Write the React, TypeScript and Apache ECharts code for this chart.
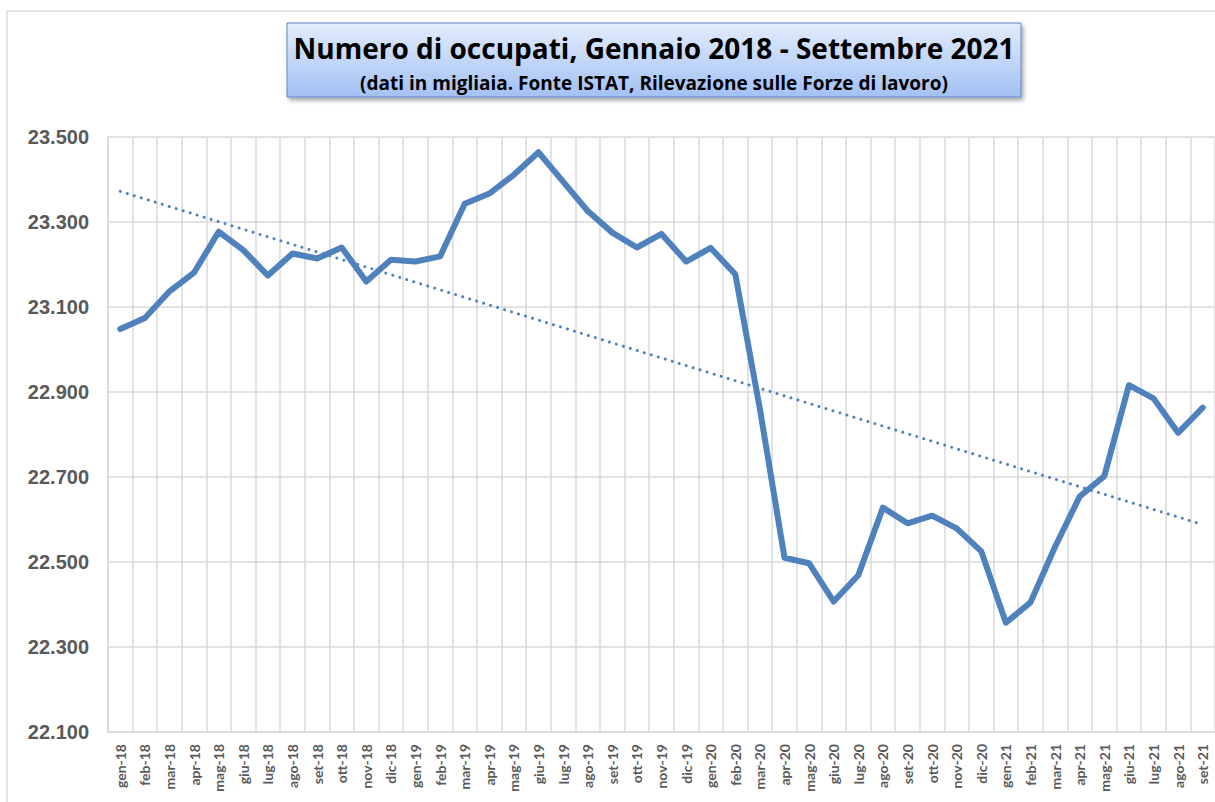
import React, { useEffect, useRef } from "react";
import * as echarts from "echarts";

const months = ["gen", "feb", "mar", "apr", "mag", "giu", "lug", "ago", "set", "ott", "nov", "dic"];
const years = ["18", "19", "20", "21"];
const categories: string[] = [];
years.forEach((y) => months.forEach((m) => categories.push(`${m}-${y}`)));
categories.splice(45);

const occupati = [
  23048, 23074, 23137, 23181, 23277, 23234, 23174, 23226, 23214, 23240, 23160, 23211,
  23207, 23219, 23343, 23367, 23411, 23464, 23395, 23326, 23275, 23240, 23272, 23207,
  23239, 23177, 22860, 22510, 22497, 22407, 22469, 22628, 22591, 22609, 22579, 22525,
  22357, 22405, 22536, 22654, 22702, 22916, 22885, 22804, 22863,
];

// Linear trend line endpoints (first and last month)
const trendCategories = ["gen-18", "set-21"];
const trendValues = [23372, 22588];

const yTicks = [22100, 22300, 22500, 22700, 22900, 23100, 23300, 23500];

const titleText = "Numero di occupati, Gennaio 2018 - Settembre 2021";
const subtitleText = "(dati in migliaia. Fonte ISTAT, Rilevazione sulle Forze di lavoro)";

const fmt = (v: number) => {
  const s = String(Math.round(v));
  return s.replace(/\B(?=(\d{3})+(?!\d))/g, ".");
};

export default function App() {
  const ref = useRef<HTMLDivElement>(null);
  useEffect(() => {
    document.body.style.overflow = "hidden";
    const chart = echarts.init(ref.current!, undefined, { renderer: "svg" });
    const blue = "#4f81bd";
    chart.setOption({
      animation: false,
      backgroundColor: "#ffffff",
      grid: { left: 108, top: 137, right: -2, bottom: 70, containLabel: false },
      xAxis: {
        type: "category",
        data: categories,
        boundaryGap: true,
        axisLine: { show: true, lineStyle: { color: "#d9d9d9", width: 1.5 } },
        axisTick: { show: false },
        splitLine: { show: true, interval: 0, lineStyle: { color: "#d9d9d9", width: 1.5 } },
        axisLabel: {
          interval: 0,
          rotate: 90,
          margin: 12,
          color: "#595959",
          fontFamily: "Lato",
          fontWeight: "bold",
          fontSize: 14,
        },
      },
      yAxis: {
        type: "value",
        min: 22100,
        max: 23500,
        axisLine: { show: true, lineStyle: { color: "#d9d9d9", width: 1.5 } },
        axisTick: { show: false, customValues: yTicks },
        splitLine: { show: true, lineStyle: { color: "#d9d9d9", width: 1.5 } },
        axisLabel: {
          customValues: yTicks,
          formatter: (v: number) => fmt(v),
          margin: 19,
          color: "#595959",
          fontFamily: "Liberation Sans, Arial",
          fontWeight: "bold",
          fontSize: 20,
        },
      },
      series: [
        {
          name: "Occupati",
          type: "line",
          data: occupati,
          showSymbol: false,
          symbol: "none",
          lineStyle: { color: blue, width: 6, cap: "round", join: "round" },
          z: 3,
        },
        {
          name: "Tendenza",
          type: "line",
          data: trendCategories.map((c, i) => [categories.indexOf(c), trendValues[i]]),
          showSymbol: false,
          symbol: "none",
          lineStyle: { color: blue, width: 3, type: [0.01, 7.3], cap: "round" },
          z: 4,
        },
      ],
      graphic: [
        {
          type: "rect",
          silent: true,
          z: -10,
          shape: { x: 7, y: 11, width: 1400, height: 1000 },
          style: { fill: "none", stroke: "#d9d9d9", lineWidth: 1.5 },
        },
        {
          type: "rect",
          z: 10,
          shape: { x: 287, y: 23, width: 734, height: 74 },
          style: {
            fill: new echarts.graphic.LinearGradient(0, 0, 0, 1, [
              { offset: 0, color: "#e3ecfc" },
              { offset: 1, color: "#a3c1f4" },
            ]),
            stroke: "#5e86c9",
            lineWidth: 1,
            shadowBlur: 4,
            shadowOffsetX: 2,
            shadowOffsetY: 3,
            shadowColor: "rgba(0,0,0,0.35)",
          },
        },
        {
          type: "text",
          z: 11,
          x: 654,
          y: 48,
          style: {
            text: titleText,
            fill: "#000000",
            font: "bold 28px 'Open Sans'",
            textAlign: "center",
            textVerticalAlign: "middle",
          },
        },
        {
          type: "text",
          z: 11,
          x: 654,
          y: 83,
          style: {
            text: subtitleText,
            fill: "#000000",
            font: "bold 19px 'Open Sans'",
            textAlign: "center",
            textVerticalAlign: "middle",
          },
        },
      ],
    });
    return () => chart.dispose();
  }, []);
  return (
    <div
      ref={ref}
      style={{ position: "fixed", left: 0, top: 0, width: 1215, height: 802 }}
    />
  );
}
